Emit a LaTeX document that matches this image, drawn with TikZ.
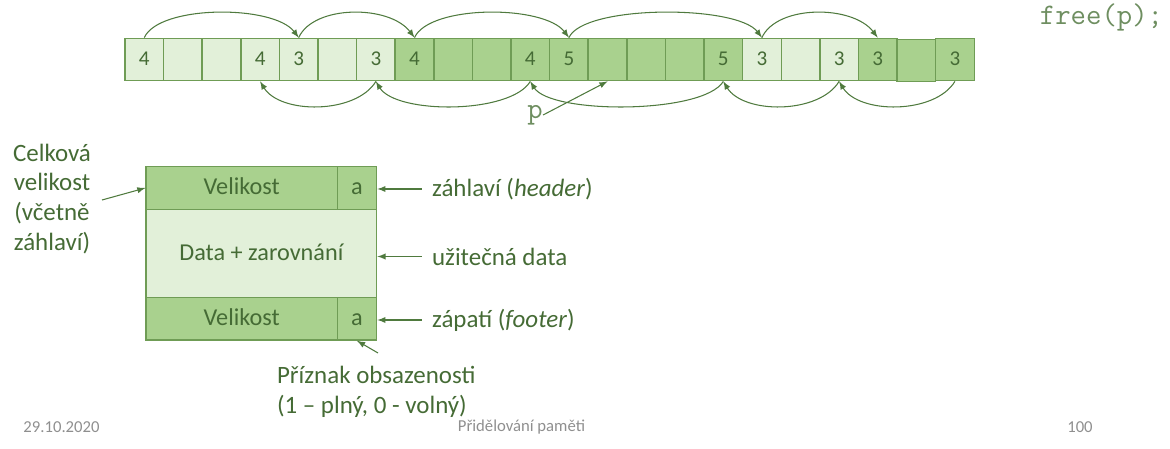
\documentclass[tikz,border=0pt]{standalone}
\usepackage{fontspec}
\setmainfont{Carlito}
\usepackage{tikz}
\definecolor{cellline}{HTML}{6F9C55}
\definecolor{darkcell}{HTML}{A9D18E}
\definecolor{lightcell}{HTML}{E2F0D9}
\definecolor{ink}{HTML}{456B35}
\definecolor{ptrline}{HTML}{4F7A3E}
\definecolor{codegreen}{HTML}{6E8E60}
\definecolor{slidegray}{HTML}{8F8F8F}
\begin{document}
\begin{tikzpicture}[x=0.02cm,y=0.02cm]
\tikzstyle{every node}+=[inner sep=0pt, text=ink]
\tikzstyle{cell}=[draw=cellline, line width=0.8pt, minimum width=0.772cm, minimum height=0.848cm, text height=0.7em, text depth=0pt, font=\fontsize{12}{13}\selectfont]
\tikzstyle{dark}=[cell, fill=darkcell]
\tikzstyle{light}=[cell, fill=lightcell]
\tikzstyle{blk}=[draw=cellline, line width=0.8pt, text height=0.78em, text depth=0pt, font=\fontsize{13.8}{17}\selectfont]
\tikzstyle{lbl}=[font=\fontsize{14.2}{17}\selectfont]
\tikzstyle{ptr}=[draw=ptrline, line width=0.6pt, -latex]
\tikzstyle{code}=[font=\ttfamily\fontsize{17}{19}\selectfont, text=codegreen]
\tikzstyle{slide}=[font=\fontsize{9.5}{11}\selectfont, text=slidegray]
\useasboundingbox (0,0) rectangle (1170,-449);
\node [light] (c0) at (144.3,-59.5) {4};
\node [light] (c1) at (182.9,-59.5) {};
\node [light] (c2) at (221.5,-59.5) {};
\node [light] (c3) at (260.1,-59.5) {4};
\node [light] (c4) at (298.7,-59.5) {3};
\node [light] (c5) at (337.3,-59.5) {};
\node [light] (c6) at (375.9,-59.5) {3};
\node [dark] (c7) at (414.5,-59.5) {4};
\node [dark] (c8) at (453.1,-59.5) {};
\node [dark] (c9) at (491.7,-59.5) {};
\node [dark] (c10) at (530.3,-59.5) {4};
\node [dark] (c11) at (568.9,-59.5) {5};
\node [dark] (c12) at (607.5,-59.5) {};
\node [dark] (c13) at (646.1,-59.5) {};
\node [dark] (c14) at (684.7,-59.5) {};
\node [dark] (c15) at (723.3,-59.5) {5};
\node [light] (c16) at (761.9,-59.5) {3};
\node [light] (c17) at (800.5,-59.5) {};
\node [light] (c18) at (839.1,-59.5) {3};
\node [dark] (c19) at (877.7,-59.5) {3};
\node [dark] (c20) at (916.3,-60.5) {};
\node [dark] (c21) at (954.9,-59.5) {3};
\draw [ptr] (c0.north) .. controls +(15,33) and +(-25,33) .. (c4.north);
\draw [ptr] (c4.north) .. controls +(15,33) and +(-25,33) .. (c7.north);
\draw [ptr] (c7.north) .. controls +(15,33) and +(-25,33) .. (c11.north);
\draw [ptr] (c11.north) .. controls +(15,33) and +(-25,33) .. (c16.north);
\draw [ptr] (c16.north) .. controls +(15,33) and +(-25,33) .. (c19.north);
\draw [ptr] (c6.south) .. controls +(-20,-33) and +(20,-33) .. (c3.south);
\draw [ptr] (c10.south) .. controls +(-20,-33) and +(20,-33) .. (c6.south);
\draw [ptr] (c15.south) .. controls +(-20,-33) and +(20,-33) .. (c10.south);
\draw [ptr] (c18.south) .. controls +(-20,-33) and +(20,-33) .. (c15.south);
\draw [ptr] (c21.south) .. controls +(-20,-33) and +(20,-33) .. (c18.south);
\node [code] (p) at (535,-115) {p};
\draw [ptr] (p.east) -- (c12.south);
\node [code] (freecall) at (1101.5,-17) {free(p);};
\node [blk, fill=darkcell, minimum width=3.826cm, minimum height=0.852cm] (hdrsize) at (241.7,-188) {Velikost};
\node [blk, fill=darkcell, minimum width=0.788cm, minimum height=0.852cm] (hdrflag) at (357,-188) {a};
\node [blk, fill=lightcell, minimum width=4.614cm, minimum height=1.768cm] (data) at (261.4,-253.5) {Data + zarovnání};
\node [blk, fill=darkcell, minimum width=3.826cm, minimum height=0.846cm] (ftrsize) at (241.7,-318.9) {Velikost};
\node [blk, fill=darkcell, minimum width=0.788cm, minimum height=0.846cm] (ftrflag) at (357,-318.9) {a};
\node [lbl, align=center] (sizelbl) at (52,-199) {Celková\\velikost\\(včetně\\záhlaví)};
\coordinate (sizetail) at (102,-200);
\draw [ptr] (sizetail) -- (hdrsize.west);
\node [lbl, anchor=west, inner xsep=0.2cm] (hdrlbl) at (421.7,-189) {záhlaví (\textit{header})};
\draw [ptr] (hdrlbl.west) -- (hdrlbl.west -| hdrflag.east);
\node [lbl, anchor=west, inner xsep=0.2cm] (datalbl) at (421.7,-256.5) {užitečná data};
\draw [ptr] (datalbl.west) -- (datalbl.west -| data.east);
\node [lbl, anchor=west, inner xsep=0.2cm] (ftrlbl) at (421.7,-320) {zápatí (\textit{footer})};
\draw [ptr] (ftrlbl.west) -- (ftrlbl.west -| ftrflag.east);
\node [lbl, anchor=west, align=left] (flaglbl) at (276.7,-392) {Příznak obsazenosti\\(1 – plný, 0 - volný)};
\coordinate (flagtail) at (378,-353);
\draw [ptr] (flagtail) -- (ftrflag.south);
\node [slide] (date) at (61.5,-426.7) {29.10.2020};
\node [slide] (topic) at (521.5,-426.7) {Přidělování paměti};
\node [slide] (page) at (1080,-426.7) {100};
\end{tikzpicture}
\end{document}
